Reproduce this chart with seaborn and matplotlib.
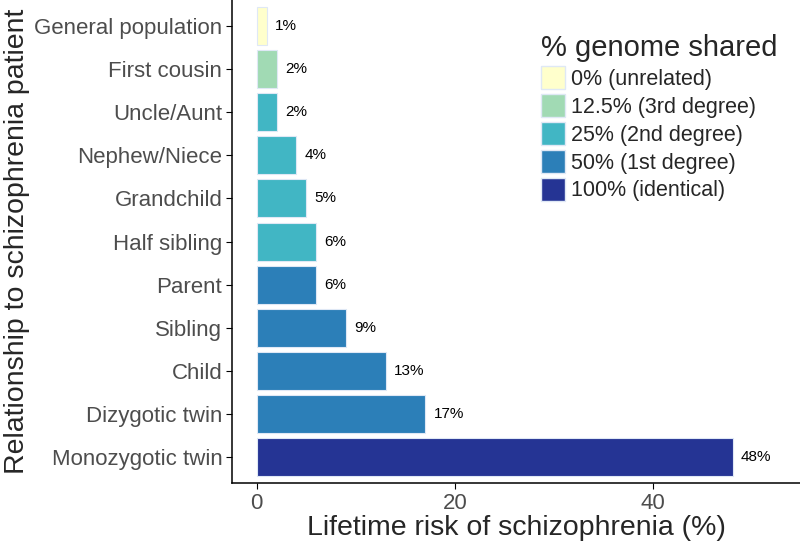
import pandas as pd
import matplotlib.pyplot as plt
import seaborn as sns
from matplotlib.patches import Patch

# data
relationships = ["General population", "First cousin", "Uncle/Aunt", "Nephew/Niece",
                 "Grandchild", "Half sibling", "Parent", "Sibling", "Child",
                 "Dizygotic twin", "Monozygotic twin"]
risk = [1, 2, 2, 4, 5, 6, 6, 9, 13, 17, 48]
shared = ["0% (unrelated)", "12.5% (3rd degree)", "25% (2nd degree)", "25% (2nd degree)",
          "25% (2nd degree)", "25% (2nd degree)", "50% (1st degree)", "50% (1st degree)",
          "50% (1st degree)", "50% (1st degree)", "100% (identical)"]
levels = ["0% (unrelated)", "12.5% (3rd degree)", "25% (2nd degree)",
          "50% (1st degree)", "100% (identical)"]
colors = ["#ffffcc", "#a1dab4", "#41b6c4", "#2c7fb8", "#253494"]

df = pd.DataFrame({"rel": relationships, "risk": risk, "shared": shared})
pal = dict(zip(levels, colors))

sns.set_style("white")
plt.rcParams["font.family"] = ["Liberation Sans", "DejaVu Sans"]

fig = plt.figure(figsize=(8, 5.44), dpi=100)
ax = fig.add_axes([0.29, 0.112, 0.71, 0.888])

sns.barplot(data=df, x="risk", y="rel", hue="shared", hue_order=levels,
            order=relationships, palette=pal, dodge=False, width=0.88,
            saturation=1, edgecolor="#dfe8f5", linewidth=0.8, legend=False, ax=ax)

for c in ax.containers:
    ax.bar_label(c, fmt="%g%%", padding=6, fontsize=11, color="black")

ax.set_xlim(-2.5, 54.8)
ax.set_ylim(10.6, -0.6)
ax.set_xticks([0, 20, 40])
ax.set_xlabel("Lifetime risk of schizophrenia (%)", fontsize=20.5, labelpad=1)
ax.set_ylabel("Relationship to schizophrenia patient", fontsize=20.5, labelpad=3)
ax.tick_params(axis="both", labelsize=16, labelcolor="#4d4d4d", length=4,
               width=0.8, color="black", left=True, bottom=True, pad=3)
for s in ["top", "right"]:
    ax.spines[s].set_visible(False)
for s in ["left", "bottom"]:
    ax.spines[s].set_color("black")
    ax.spines[s].set_linewidth(1.1)

handles = [Patch(facecolor=pal[l], edgecolor="#dfe8f5", label=l) for l in levels]
leg = ax.legend(handles=handles, title="% genome shared", loc="upper left",
                bbox_to_anchor=(0.544, 0.93), frameon=False, fontsize=15.5,
                title_fontsize=21, handlelength=1.1, handleheight=1.25,
                handletextpad=0.3, labelspacing=0.2, borderaxespad=0, borderpad=0)
leg._legend_box.align = "left"

fig.savefig("out.png", dpi=100)
